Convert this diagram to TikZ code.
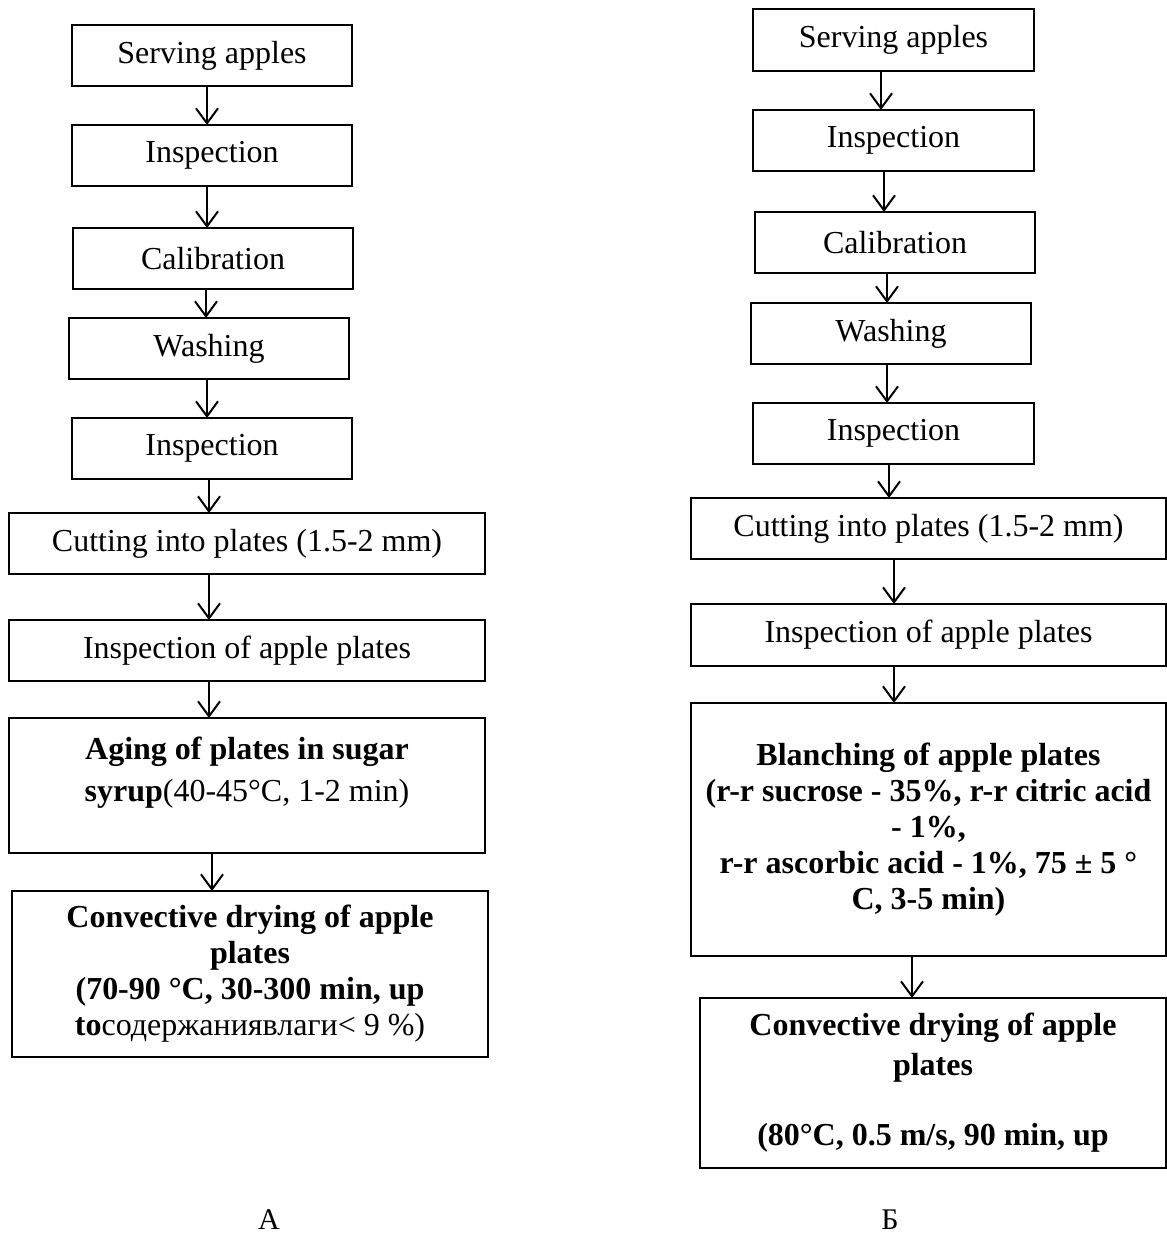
\documentclass[tikz,border=0pt]{standalone}
\usepackage{fontspec}
\setmainfont{Liberation Serif}
\usetikzlibrary{arrows.meta}
\begin{document}
\begin{tikzpicture}[x=1pt,y=-1pt,
  box/.style={draw, line width=1.3pt, inner sep=0pt, outer sep=0pt, align=center,
    font=\fontsize{32}{36}\selectfont},
  arr/.style={line width=2pt, -{Straight Barb[length=15pt,width=22pt,line width=2pt]}},
  lab/.style={anchor=base, inner sep=0pt, font=\fontsize{30}{34}\selectfont}]
\useasboundingbox (0,0) rectangle (1167,1235);
\fill[white] (0,0) rectangle (1167,1235);

% ---------- left column (A) ----------
\node[box, minimum width=280, minimum height=61] (L1) at (212,55.5) {Serving apples};
\node[box, minimum width=280, minimum height=61] (L2) at (212,155.5) {Inspection};
\node[box, minimum width=280, minimum height=61] (L3) at (213,258.5) {Calibration};
\node[box, minimum width=280, minimum height=61] (L4) at (209,348.5) {Washing};
\node[box, minimum width=280, minimum height=61] (L5) at (212,448.5) {Inspection};
\node[box, minimum width=476, minimum height=61] (L6) at (247,543.5) {Cutting into plates (1.5-2 mm)};
\node[box, minimum width=476, minimum height=61] (L7) at (247,650.5) {Inspection of apple plates};
\node[box, minimum width=476, minimum height=135, font=\fontsize{32}{42}\selectfont] (L8) at (247,785.5)
  {\textbf{Aging of plates in sugar}\\\textbf{syrup}(40-45°C, 1-2 min)\\[-22pt]\strut};
\node[box, minimum width=476, minimum height=166] (L9) at (250,974)
  {\textbf{Convective drying of apple}\\\textbf{plates}\\\textbf{(70-90 °C, 30-300 min, up}\\\textbf{to}содержаниявлаги< 9 \%)};

\coordinate (xa1) at (207,0);
\coordinate (xa2) at (207,0);
\coordinate (xa3) at (206,0);
\coordinate (xa4) at (207,0);
\coordinate (xa5) at (209,0);
\coordinate (xa6) at (209,0);
\coordinate (xa7) at (209,0);
\coordinate (xa8) at (212,0);
\draw[arr] (L1.south -| xa1) -- (L2.north -| xa1);
\draw[arr] (L2.south -| xa2) -- (L3.north -| xa2);
\draw[arr] (L3.south -| xa3) -- (L4.north -| xa3);
\draw[arr] (L4.south -| xa4) -- (L5.north -| xa4);
\draw[arr] (L5.south -| xa5) -- (L6.north -| xa5);
\draw[arr] (L6.south -| xa6) -- (L7.north -| xa6);
\draw[arr] (L7.south -| xa7) -- (L8.north -| xa7);
\draw[arr] (L8.south -| xa8) -- (L9.north -| xa8);

% ---------- right column (B) ----------
\node[box, minimum width=281, minimum height=62] (R1) at (893.5,40) {Serving apples};
\node[box, minimum width=281, minimum height=61] (R2) at (893.5,140.5) {Inspection};
\node[box, minimum width=280, minimum height=61] (R3) at (895,242.5) {Calibration};
\node[box, minimum width=280, minimum height=61] (R4) at (891,333.5) {Washing};
\node[box, minimum width=281, minimum height=61] (R5) at (893.5,433.5) {Inspection};
\node[box, minimum width=475, minimum height=61] (R6) at (928.5,528.5) {Cutting into plates (1.5-2 mm)};
\node[box, minimum width=475, minimum height=62] (R7) at (928.5,635) {Inspection of apple plates};
\node[box, minimum width=475, minimum height=253, font=\bfseries\fontsize{32}{36}\selectfont] (R8) at (928.5,829.5)
  {Blanching of apple plates\\(r-r sucrose - 35\%, r-r citric acid\\- 1\%,\\r-r ascorbic acid - 1\%, 75 ± 5 °\\C, 3-5 min)};
\node[box, minimum width=466, minimum height=170, font=\bfseries\fontsize{32}{40}\selectfont] (R9) at (933,1083)
  {Convective drying of apple\\plates\\[30pt](80°C, 0.5 m/s, 90 min, up};

\coordinate (xb1) at (881,0);
\coordinate (xb2) at (884,0);
\coordinate (xb3) at (887,0);
\coordinate (xb4) at (887,0);
\coordinate (xb5) at (889,0);
\coordinate (xb6) at (894,0);
\coordinate (xb7) at (894,0);
\coordinate (xb8) at (912,0);
\draw[arr] (R1.south -| xb1) -- (R2.north -| xb1);
\draw[arr] (R2.south -| xb2) -- (R3.north -| xb2);
\draw[arr] (R3.south -| xb3) -- (R4.north -| xb3);
\draw[arr] (R4.south -| xb4) -- (R5.north -| xb4);
\draw[arr] (R5.south -| xb5) -- (R6.north -| xb5);
\draw[arr] (R6.south -| xb6) -- (R7.north -| xb6);
\draw[arr] (R7.south -| xb7) -- (R8.north -| xb7);
\draw[arr] (R8.south -| xb8) -- (R9.north -| xb8);

% ---------- captions ----------
\node[lab] (capA) at (269,1229) {А};
\node[lab] (capB) at (890,1229) {Б};
\end{tikzpicture}
\end{document}
